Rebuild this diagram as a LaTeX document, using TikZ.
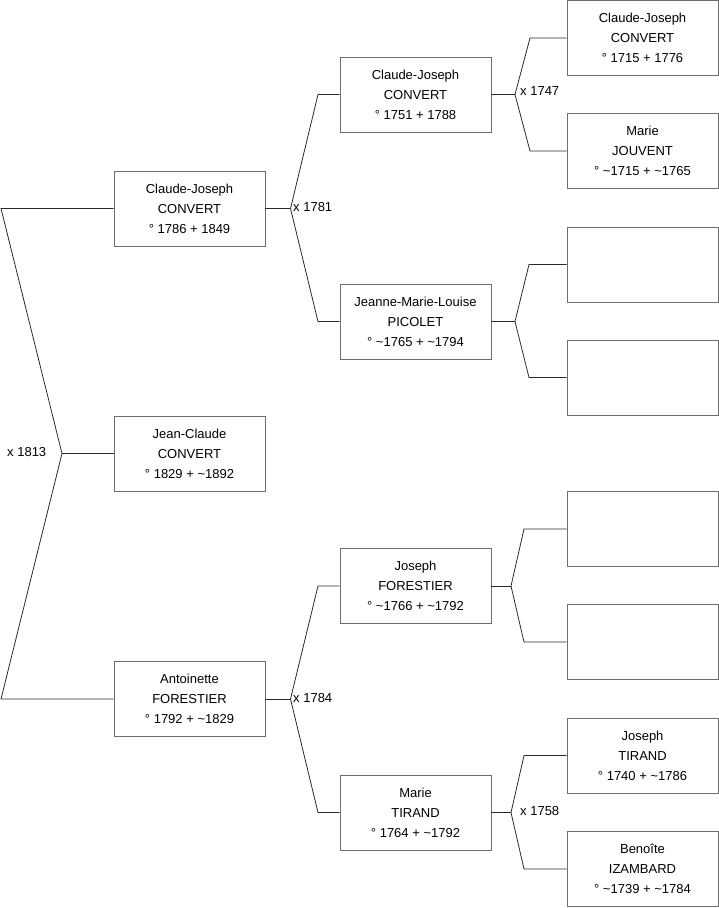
\documentclass[tikz,border=0pt]{standalone}
\usepackage{fontspec}
\setmainfont{Liberation Sans}
\definecolor{boxgray}{HTML}{6E6E6E}
\definecolor{linegray}{HTML}{2A2A2A}
\begin{document}
\begin{tikzpicture}[x=1pt,y=-1pt,
  person/.style={draw=boxgray, line width=0.9pt, fill=white, minimum width=151pt,
    minimum height=75pt, align=center, inner sep=0pt,
    font=\fontsize{13}{20}\selectfont},
  link/.style={draw=linegray, line width=0.8pt},
  marr/.style={anchor=west, inner sep=0pt, font=\fontsize{13}{15}\selectfont}]
\useasboundingbox (0,0) rectangle (719,908);

% generation 0
\node[person] (p0) at (189.5,453.5) {Jean-Claude\\CONVERT\\° 1829 + \textasciitilde 1892};
% generation 1
\node[person] (p1) at (189.5,208.5) {Claude-Joseph\\CONVERT\\° 1786 + 1849};
\node[person] (p2) at (189.5,699) {Antoinette\\FORESTIER\\° 1792 + \textasciitilde 1829};
% generation 2
\node[person] (p3) at (415.5,94.5) {Claude-Joseph\\CONVERT\\° 1751 + 1788};
\node[person] (p4) at (415.5,321.5) {Jeanne-Marie-Louise\\PICOLET\\° \textasciitilde 1765 + \textasciitilde 1794};
\node[person] (p5) at (415.5,586) {Joseph\\FORESTIER\\° \textasciitilde 1766 + \textasciitilde 1792};
\node[person] (p6) at (415.5,812.5) {Marie\\TIRAND\\° 1764 + \textasciitilde 1792};
% generation 3
\node[person] (p7) at (642.5,38) {Claude-Joseph\\CONVERT\\° 1715 + 1776};
\node[person] (p8) at (642.5,151) {Marie\\JOUVENT\\° \textasciitilde 1715 + \textasciitilde 1765};
\node[person] (p9) at (642.5,264.5) {};
\node[person] (p10) at (642.5,377.5) {};
\node[person] (p11) at (642.5,529) {};
\node[person] (p12) at (642.5,642) {};
\node[person] (p13) at (642.5,755.5) {Joseph\\TIRAND\\° 1740 + \textasciitilde 1786};
\node[person] (p14) at (642.5,869) {Benoîte\\IZAMBARD\\° \textasciitilde 1739 + \textasciitilde 1784};

% fork 0
\coordinate (j0) at (62,453.5);
\coordinate (k0a) at (1,208.5);
\coordinate (k0b) at (1,699);
\draw[link] (p0.west) -- (j0);
\draw[link] (p1.west) -- (k0a) -- (j0) -- (k0b) -- (p2.west);
\node[marr] (m0) at (7,452) {x 1813};

% fork 1
\coordinate (j1) at (290.5,208.5);
\coordinate (k1a) at (318,94.5);
\coordinate (k1b) at (318,321.5);
\draw[link] (p1.east) -- (j1);
\draw[link] (p3.west) -- (k1a) -- (j1) -- (k1b) -- (p4.west);
\node[marr] (m1) at (293,207) {x 1781};

% fork 2
\coordinate (j2) at (515,94.5);
\coordinate (k2a) at (530,38);
\coordinate (k2b) at (530,151);
\draw[link] (p3.east) -- (j2);
\draw[link] (p7.west) -- (k2a) -- (j2) -- (k2b) -- (p8.west);
\node[marr] (m2) at (520,91) {x 1747};

% fork 3
\coordinate (j3) at (515,321.5);
\coordinate (k3a) at (529,264.5);
\coordinate (k3b) at (529,377.5);
\draw[link] (p4.east) -- (j3);
\draw[link] (p9.west) -- (k3a) -- (j3) -- (k3b) -- (p10.west);

% fork 4
\coordinate (j4) at (290.5,699);
\coordinate (k4a) at (318,586);
\coordinate (k4b) at (318,812.5);
\draw[link] (p2.east) -- (j4);
\draw[link] (p5.west) -- (k4a) -- (j4) -- (k4b) -- (p6.west);
\node[marr] (m4) at (293,698) {x 1784};

% fork 5
\coordinate (j5) at (511,586);
\coordinate (k5a) at (524,529);
\coordinate (k5b) at (524,642);
\draw[link] (p5.east) -- (j5);
\draw[link] (p11.west) -- (k5a) -- (j5) -- (k5b) -- (p12.west);

% fork 6
\coordinate (j6) at (511,812.5);
\coordinate (k6a) at (524,755.5);
\coordinate (k6b) at (524,869);
\draw[link] (p6.east) -- (j6);
\draw[link] (p13.west) -- (k6a) -- (j6) -- (k6b) -- (p14.west);
\node[marr] (m6) at (520,811) {x 1758};
\end{tikzpicture}
\end{document}
